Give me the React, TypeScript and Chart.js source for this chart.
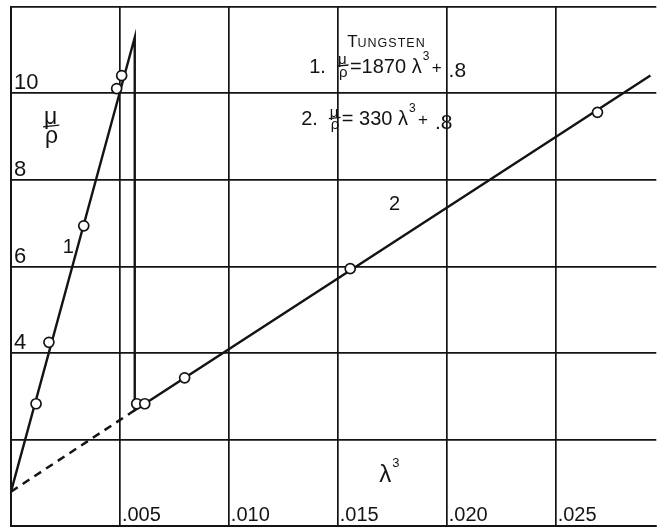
import React, { useEffect, useRef } from 'react';
import { Chart, registerables } from 'chart.js';

Chart.register(...registerables);

// Axis ranges and grid
const X_MIN = 0;
const X_MAX = 0.02962;
const Y_MIN = 0;
const Y_MAX = 12;
const X_STEP = 0.005;
const Y_STEP = 2;

// Tick labels
const xTickValues = [0.005, 0.01, 0.015, 0.02, 0.025];
const xTickLabels = ['.005', '.010', '.015', '.020', '.025'];
const yTickValues = [4, 6, 8, 10];
const yTickLabels = ['4', '6', '8', '10'];

// Observed points (λ³, μ/ρ)
const obsX = [0.00115, 0.00174, 0.00334, 0.00485, 0.00508, 0.00577, 0.00614, 0.00797, 0.01557, 0.02692];
const obsY = [2.83, 4.25, 6.94, 10.11, 10.41, 2.83, 2.83, 3.43, 5.95, 9.56];

// Solid fitted curve: line 1, absorption edge drop, line 2
const curveX = [0, 0.00568, 0.00568, 0.02935];
const curveY = [0.8, 11.29, 2.68, 10.41];

// Dashed extrapolation of line 2
const extrapX = [0, 0.00568];
const extrapY = [0.8, 2.68];

// Texts
const title = 'TUNGSTEN';
const eq1 = ['1.', '=1870 λ', '3', '+', '.8'];
const eq2 = ['2.', '= 330 λ', '3', '+', '.8'];

const FONT = '"Liberation Sans", Arial, sans-serif';
const INK = '#141414';

const toPts = (xs: number[], ys: number[]) => xs.map((x, i) => ({ x, y: ys[i] }));

const textPlugin = {
  id: 'handText',
  afterDraw(chart: any) {
    const ctx = chart.ctx as CanvasRenderingContext2D;
    const xs = chart.scales.x;
    const ys = chart.scales.y;
    const px = (v: number) => xs.getPixelForValue(v);
    const py = (v: number) => ys.getPixelForValue(v);
    ctx.save();
    ctx.fillStyle = INK;
    ctx.strokeStyle = INK;
    ctx.textBaseline = 'alphabetic';
    ctx.textAlign = 'left';
    const t = (s: string, x: number, y: number, size: number) => {
      ctx.font = `${size}px ${FONT}`;
      ctx.fillText(s, x, y);
      return ctx.measureText(s).width;
    };
    // x tick labels
    xTickValues.forEach((v, i) => t(xTickLabels[i], px(v) + 2, py(0) - 5, 20));
    // y tick labels
    yTickValues.forEach((v, i) => t(yTickLabels[i], px(0) + 3, py(v) - 4, 22));

    // stacked μ over ρ with a short bar
    const frac = (x: number, base: number, size: number) => {
      ctx.font = `${size}px ${FONT}`;
      const w = ctx.measureText('μ').width;
      ctx.fillText('μ', x, base - size * 0.55);
      ctx.fillText('ρ', x + 1, base + size * 0.28);
      ctx.lineWidth = 1.3;
      ctx.beginPath();
      ctx.moveTo(x - 1, base - size * 0.42);
      ctx.lineTo(x + w + 2, base - size * 0.5);
      ctx.stroke();
    };
    // y-axis title μ/ρ
    frac(px(0) + 33, py(9.0), 23);
    // x-axis title λ³
    const lw = t('λ', px(0.0169), py(1.03), 24);
    t('3', px(0.0169) + lw + 1, py(1.03) - 15, 13);
    // line labels
    t('1', px(0.00238), py(6.32), 20);
    t('2', px(0.01735), py(7.31), 20);

    // Legend text
    const tx = px(0.01543);
    const ty = py(11.06);
    ctx.font = `17px ${FONT}`;
    ctx.fillText(title[0], tx, ty);
    const tw = ctx.measureText(title[0]).width;
    ctx.font = `12.5px ${FONT}`;
    (ctx as any).letterSpacing = '1px';
    ctx.fillText(title.slice(1), tx + tw, ty);
    (ctx as any).letterSpacing = '0px';

    const row = (eq: string[], x: number, base: number) => {
      let cx = x;
      cx += t(eq[0], cx, base, 20) + 12;
      frac(cx, base, 15);
      cx += 12;
      cx += t(eq[1], cx, base, 20);
      t(eq[2], cx + 1, base - 13, 12);
      cx += 10;
      cx += t(eq[3], cx, base, 17) + 7;
      t(eq[4], cx, base + 4, 21);
    };
    row(eq1, px(0.01369), py(10.48));
    row(eq2, px(0.01332), py(9.27));
    ctx.restore();
  },
};

export default function App() {
  const ref = useRef<HTMLCanvasElement | null>(null);
  useEffect(() => {
    if (!ref.current) return;
    const chart = new Chart(ref.current, {
      type: 'scatter',
      data: {
        datasets: [
          {
            label: 'observed',
            data: toPts(obsX, obsY),
            showLine: false,
            pointRadius: 5,
            pointBackgroundColor: '#ffffff',
            pointBorderColor: INK,
            pointBorderWidth: 1.7,
            order: 0,
          },
          {
            label: 'curve',
            data: toPts(curveX, curveY),
            showLine: true,
            pointRadius: 0,
            borderColor: INK,
            borderWidth: 2.4,
            tension: 0,
            order: 1,
          },
          {
            label: 'extrapolation',
            data: toPts(extrapX, extrapY),
            showLine: true,
            pointRadius: 0,
            borderColor: INK,
            borderWidth: 2.5,
            borderDash: [8, 6],
            tension: 0,
            order: 2,
          },
        ],
      },
      options: {
        animation: false,
        responsive: false,
        devicePixelRatio: 1,
        layout: { padding: { left: 11, top: 6, right: 0, bottom: 1 } },
        plugins: { legend: { display: false }, tooltip: { enabled: false } },
        scales: {
          x: {
            type: 'linear',
            min: X_MIN,
            max: X_MAX,
            ticks: { display: false, stepSize: X_STEP, includeBounds: false },
            grid: { color: INK, lineWidth: 1.7, drawTicks: false },
            border: { display: true, color: INK, width: 2 },
          },
          y: {
            type: 'linear',
            min: Y_MIN,
            max: Y_MAX,
            ticks: { display: false, stepSize: Y_STEP },
            grid: { color: INK, lineWidth: 1.7, drawTicks: false },
            border: { display: true, color: INK, width: 2 },
          },
        },
      },
      plugins: [textPlugin],
    });
    return () => chart.destroy();
  }, []);
  return (
    <div style={{ position: 'fixed', left: 0, top: 0, width: 658, height: 529, overflow: 'hidden', background: '#fff' }}>
      <canvas ref={ref} width={663} height={533} style={{ display: 'block' }} />
    </div>
  );
}
